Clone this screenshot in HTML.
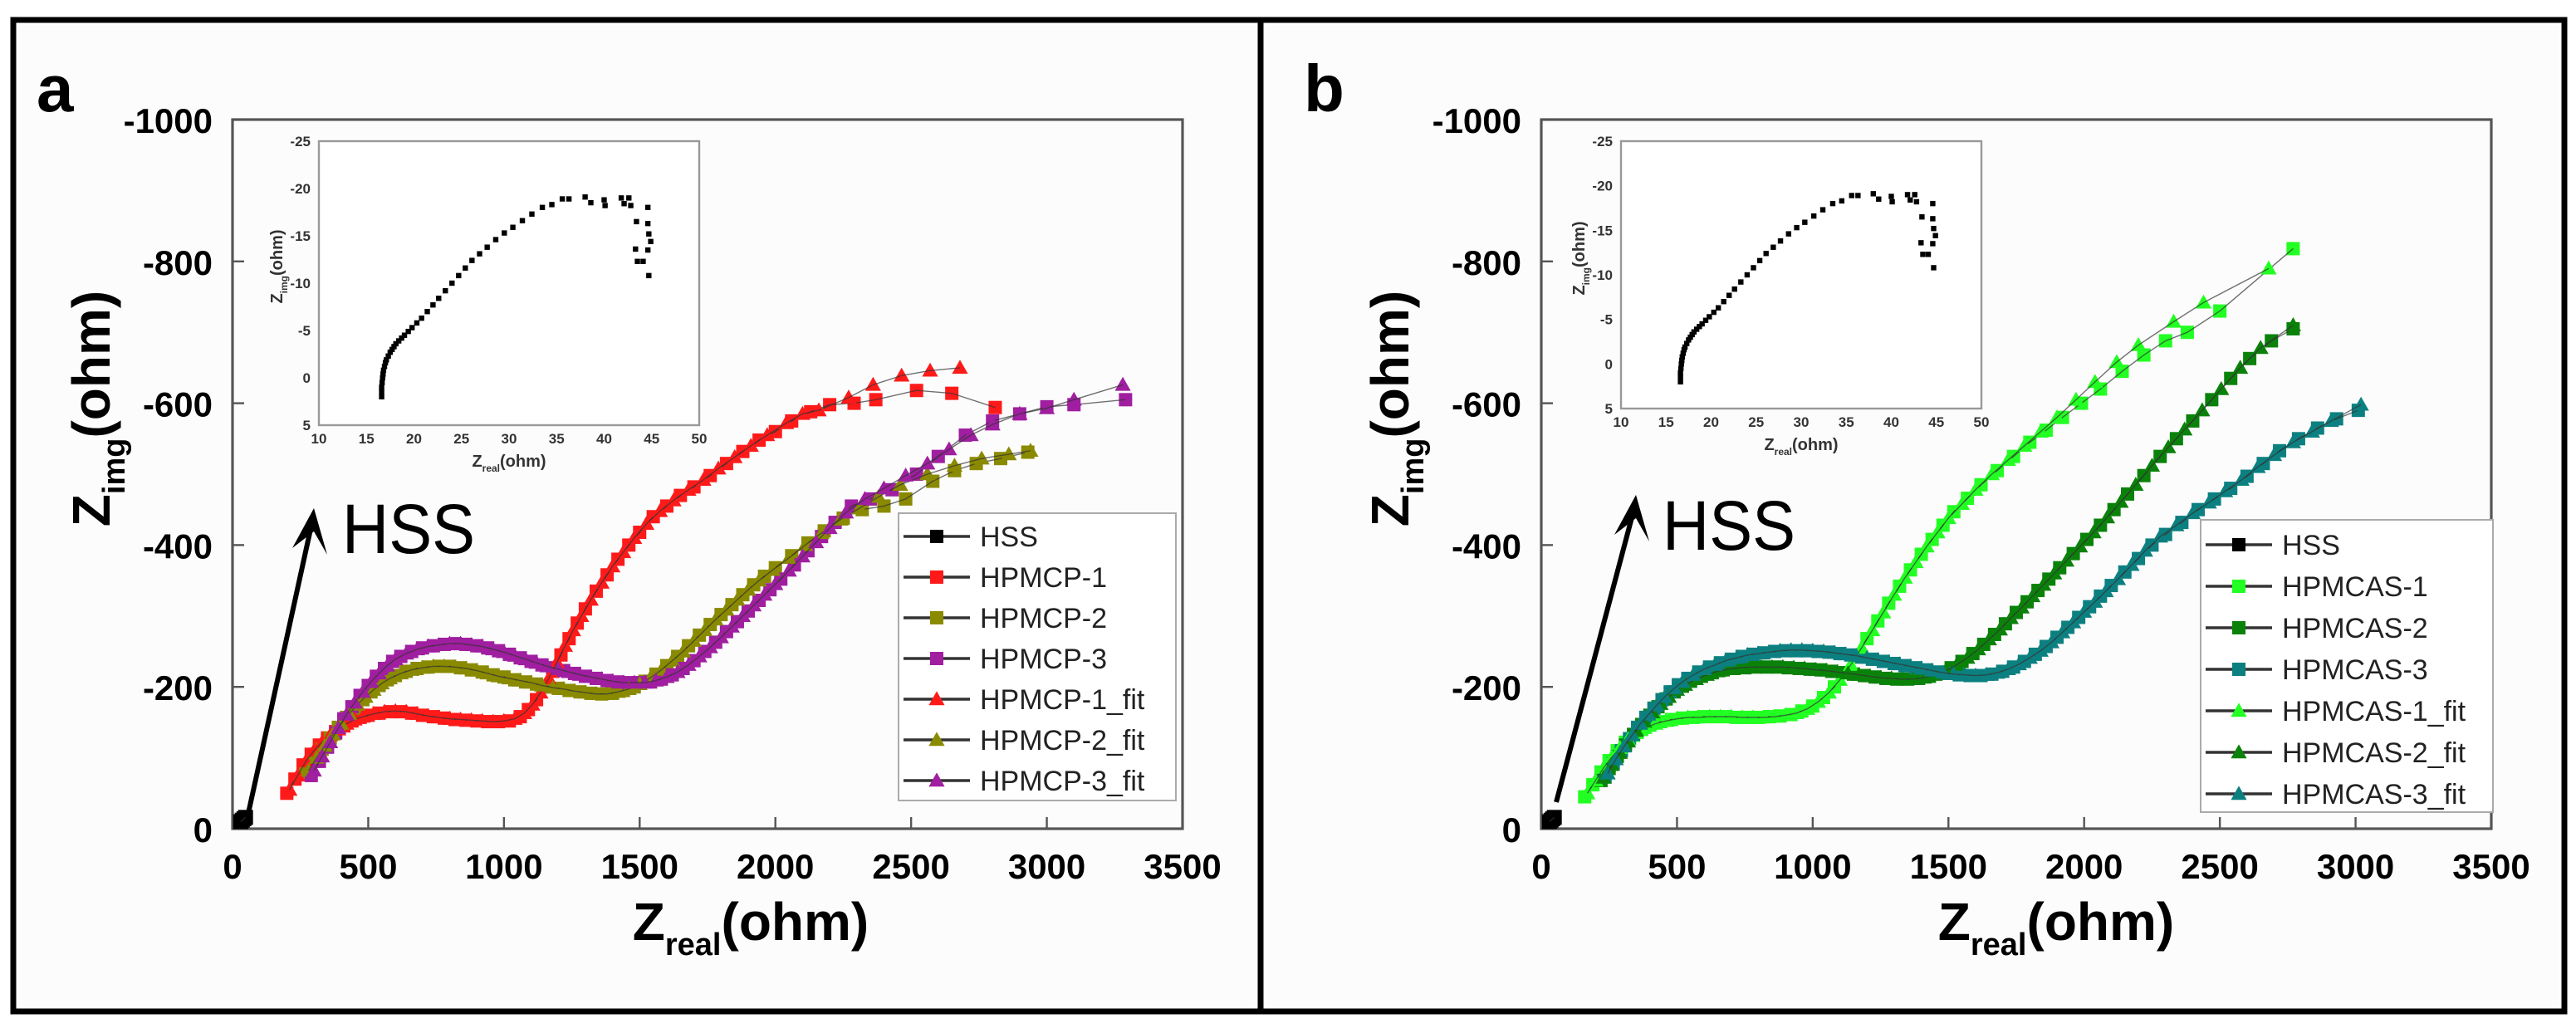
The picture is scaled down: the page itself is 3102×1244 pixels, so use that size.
<!DOCTYPE html>
<html><head><meta charset="utf-8"><style>
html,body{margin:0;padding:0;background:#fff;}
svg{display:block;font-family:"Liberation Sans",Arial,sans-serif;}
</style></head><body>
<svg id="fig" xmlns="http://www.w3.org/2000/svg" width="3102" height="1244" viewBox="0 0 1551 622"></svg>
<script>
const xTicks=[0,500,1000,1500,2000,2500,3000,3500];
const yTicks=[0,200,400,600,800,1000];
const insetXTicks=[10,15,20,25,30,35,40,45,50];
const insetYTicks=[5,0,-5,-10,-15,-20,-25];
const namesA=["HSS","HPMCP-1","HPMCP-2","HPMCP-3","HPMCP-1_fit","HPMCP-2_fit","HPMCP-3_fit"];
const namesB=["HSS","HPMCAS-1","HPMCAS-2","HPMCAS-3","HPMCAS-1_fit","HPMCAS-2_fit","HPMCAS-3_fit"];
const hss=[[30,10],[36,12],[42,14],[48,16]];
const p1=[[200,50],[230,70],[260,90],[290,105],[320,118],[350,128],[380,137],[410,145],[440,152],[470,157],[500,160],[540,163],[580,165],[620,165],[660,163],[700,160],[740,158],[780,156],[820,154],[860,153],[900,152],[940,151],[980,151],[1020,152],[1060,158],[1090,168],[1120,182],[1150,200],[1180,222],[1210,245],[1240,268],[1270,290],[1300,310],[1340,335],[1380,358],[1420,380],[1460,400],[1500,418],[1550,440],[1600,455],[1650,470],[1700,482],[1760,498],[1820,515],[1880,532],[1940,548],[2000,560],[2060,575],[2130,588],[2200,598],[2290,600],[2370,605],[2520,618],[2650,614],[2810,594]];
const p1fit=[[210,55],[240,75],[270,95],[300,110],[330,122],[360,132],[390,140],[420,148],[450,154],[480,158],[520,162],[560,165],[600,166],[640,165],[680,162],[720,159],[760,157],[800,155],[840,154],[880,153],[920,152],[960,151],[1000,152],[1040,155],[1075,163],[1105,175],[1135,192],[1165,212],[1195,235],[1225,258],[1255,280],[1285,300],[1320,323],[1360,347],[1400,370],[1440,390],[1480,410],[1525,430],[1575,448],[1625,463],[1680,478],[1735,492],[1790,508],[1850,524],[1910,540],[1970,555],[2040,572],[2100,585],[2160,590],[2270,608],[2360,626],[2465,639],[2570,646],[2680,650]];
const p2=[[270,78],[300,95],[330,112],[360,128],[390,143],[420,157],[450,170],[480,182],[510,193],[540,202],[570,210],[600,216],[640,222],[680,226],[720,228],[760,229],[800,229],[840,227],[880,224],[920,221],[960,217],[1000,214],[1040,210],[1080,207],[1120,204],[1160,201],[1200,198],[1240,195],[1280,193],[1320,191],[1360,190],[1400,191],[1440,195],[1480,200],[1520,208],[1560,218],[1600,230],[1640,243],[1680,258],[1720,273],[1760,288],[1800,302],[1840,316],[1880,330],[1920,344],[1960,356],[2000,368],[2060,385],[2120,403],[2180,420],[2250,438],[2320,450],[2400,455],[2480,465],[2580,490],[2660,505],[2740,515],[2830,522],[2930,531]];
const p2fit=[[280,82],[310,100],[340,117],[370,133],[400,148],[430,162],[460,175],[490,186],[520,196],[550,205],[580,212],[620,219],[660,224],[700,227],[740,229],[780,229],[820,228],[860,226],[900,223],[940,219],[980,215],[1020,212],[1060,209],[1100,206],[1140,202],[1180,199],[1220,197],[1260,194],[1300,192],[1340,190],[1380,190],[1420,193],[1460,197],[1500,204],[1540,213],[1580,224],[1620,237],[1660,250],[1700,265],[1740,280],[1780,295],[1820,309],[1860,323],[1900,337],[1940,350],[1990,365],[2050,382],[2110,400],[2170,417],[2240,436],[2310,452],[2380,468],[2460,485],[2560,500],[2660,512],[2760,522],[2860,528],[2940,533]];
const p3=[[290,75],[320,95],[350,115],[380,135],[410,155],[440,172],[470,188],[500,202],[530,215],[560,226],[590,236],[620,243],[660,250],[700,255],[740,258],[780,260],[820,261],[860,260],[900,258],[940,255],[980,251],[1020,246],[1060,241],[1100,236],[1140,231],[1180,227],[1220,223],[1260,219],[1300,215],[1340,212],[1380,209],[1420,207],[1460,206],[1500,206],[1540,207],[1580,211],[1620,217],[1660,226],[1700,237],[1740,250],[1780,263],[1820,278],[1860,292],[1900,307],[1940,322],[1980,337],[2020,352],[2070,372],[2120,392],[2170,412],[2220,432],[2280,455],[2350,465],[2430,478],[2520,500],[2600,525],[2700,555],[2800,575],[2900,585],[3000,595],[3100,598],[3290,605]];
const p3fit=[[300,82],[330,102],[360,122],[390,142],[420,161],[450,178],[480,193],[510,207],[540,219],[570,230],[600,239],[640,247],[680,253],[720,257],[760,259],[800,261],[840,261],[880,259],[920,257],[960,253],[1000,249],[1040,244],[1080,239],[1120,234],[1160,229],[1200,225],[1240,221],[1280,217],[1320,214],[1360,211],[1400,208],[1440,206],[1480,206],[1520,206],[1560,209],[1600,214],[1640,221],[1680,231],[1720,243],[1760,256],[1800,270],[1840,285],[1880,300],[1920,315],[1960,330],[2000,345],[2050,364],[2100,384],[2150,404],[2200,424],[2260,446],[2330,465],[2400,480],[2480,498],[2560,515],[2640,535],[2720,555],[2800,570],[2900,585],[3000,593],[3100,605],[3280,626]];
const q1=[[160,45],[190,62],[220,80],[250,96],[280,110],[310,122],[340,132],[370,140],[400,146],[440,151],[480,154],[520,156],[560,157],[600,158],[640,158],[680,158],[720,157],[760,157],[800,157],[840,158],[880,159],[920,161],[960,166],[1000,173],[1040,185],[1080,200],[1120,220],[1160,243],[1200,268],[1240,293],[1280,318],[1320,342],[1360,365],[1400,387],[1440,408],[1480,428],[1520,447],[1570,466],[1620,485],[1680,505],[1740,525],[1800,545],[1860,562],[1920,580],[1990,600],[2060,620],[2140,645],[2220,668],[2300,688],[2380,700],[2500,730],[2770,818]];
const q1fit=[[170,50],[200,68],[230,86],[260,101],[290,114],[320,126],[350,135],[380,142],[420,148],[460,152],[500,155],[540,157],[580,157],[620,158],[660,158],[700,158],[740,157],[780,157],[820,157],[860,158],[900,160],[940,163],[980,169],[1020,179],[1060,192],[1100,210],[1140,231],[1180,255],[1220,280],[1260,305],[1300,330],[1340,354],[1380,376],[1420,398],[1460,418],[1500,438],[1550,458],[1600,478],[1660,500],[1720,520],[1780,540],[1840,560],[1900,580],[1970,605],[2040,630],[2120,658],[2200,682],[2330,715],[2440,742],[2680,790]];
const q2=[[220,68],[250,85],[280,102],[310,118],[340,133],[370,147],[400,160],[430,172],[460,183],[490,193],[520,201],[550,208],[590,215],[630,220],[670,224],[710,226],[750,227],[790,228],[830,228],[870,228],[910,227],[950,226],[990,225],[1030,224],[1070,222],[1110,220],[1150,218],[1190,216],[1230,214],[1270,212],[1310,211],[1350,211],[1390,212],[1430,215],[1470,220],[1510,227],[1550,236],[1590,247],[1630,260],[1670,274],[1710,289],[1750,305],[1790,320],[1830,336],[1870,352],[1910,368],[1960,388],[2010,408],[2060,428],[2110,450],[2160,472],[2220,498],[2280,525],[2340,550],[2400,575],[2470,605],[2540,635],[2610,663],[2690,688],[2770,705]];
const q2fit=[[230,72],[260,90],[290,107],[320,123],[350,138],[380,151],[410,164],[440,176],[470,186],[500,196],[530,203],[570,211],[610,217],[650,222],[690,225],[730,227],[770,228],[810,228],[850,228],[890,228],[930,227],[970,226],[1010,224],[1050,223],[1090,221],[1130,219],[1170,217],[1210,215],[1250,213],[1290,212],[1330,211],[1370,211],[1410,213],[1450,217],[1490,223],[1530,231],[1570,241],[1610,253],[1650,267],[1690,281],[1730,297],[1770,312],[1810,328],[1850,344],[1890,360],[1935,378],[1985,398],[2035,418],[2085,439],[2135,461],[2190,485],[2250,512],[2310,538],[2370,563],[2435,590],[2505,620],[2575,650],[2650,678],[2770,710]];
const q3=[[235,73],[265,92],[295,110],[325,127],[355,143],[385,157],[415,170],[445,182],[475,193],[505,203],[540,212],[580,221],[620,228],[660,234],[700,239],[740,243],[780,246],[820,248],[860,250],[900,251],[940,251],[980,251],[1020,250],[1060,249],[1100,247],[1140,245],[1180,242],[1220,239],[1260,236],[1300,233],[1340,230],[1380,227],[1420,224],[1460,221],[1500,219],[1540,217],[1580,216],[1620,216],[1660,218],[1700,222],[1740,228],[1780,236],[1820,246],[1860,257],[1900,270],[1940,284],[1980,298],[2020,313],[2060,328],[2100,343],[2150,362],[2200,381],[2250,400],[2300,415],[2360,432],[2420,450],[2480,465],[2540,480],[2600,497],[2660,515],[2720,533],[2790,550],[2860,565],[2930,578],[3010,590]];
const q3fit=[[245,78],[275,98],[305,116],[335,132],[365,148],[395,161],[425,174],[455,186],[490,198],[520,207],[560,217],[600,225],[640,231],[680,237],[720,241],[760,245],[800,247],[840,249],[880,251],[920,252],[960,252],[1000,251],[1040,250],[1080,248],[1120,246],[1160,244],[1200,241],[1240,238],[1280,235],[1320,232],[1360,229],[1400,226],[1440,223],[1480,220],[1520,218],[1560,217],[1600,216],[1640,217],[1680,220],[1720,225],[1760,232],[1800,241],[1840,251],[1880,263],[1920,277],[1960,291],[2000,306],[2040,320],[2080,335],[2125,352],[2175,372],[2225,392],[2280,412],[2340,428],[2400,445],[2460,460],[2520,476],[2580,492],[2640,510],[2700,527],[2770,545],[2840,560],[2910,575],[3020,598]];
const inset=[[16.6,2],[16.6,1.5],[16.6,1],[16.65,0.5],[16.7,0],[16.75,-0.4],[16.8,-0.8],[16.9,-1.2],[17.0,-1.6],[17.1,-1.9],[17.3,-2.3],[17.5,-2.7],[17.7,-3],[17.9,-3.3],[18.1,-3.6],[18.4,-3.9],[18.7,-4.2],[19.0,-4.5],[19.4,-4.9],[19.8,-5.3],[20.3,-5.8],[20.8,-6.3],[21.4,-7],[22,-7.7],[22.6,-8.4],[23.3,-9.2],[24,-10],[24.7,-10.8],[25.4,-11.6],[26.1,-12.4],[26.9,-13.1],[27.7,-13.8],[28.6,-14.6],[29.5,-15.3],[30.4,-15.9],[31.4,-16.6],[32.4,-17.3],[33.5,-18],[34.5,-18.3],[35.6,-18.9],[36.3,-18.9],[38,-19.1],[38.6,-18.5],[40,-18.8],[40.1,-18.2],[41.8,-19],[42.1,-18.4],[42.6,-19],[42.8,-18.2],[44.6,-18],[43.4,-16.5],[44.6,-16.3],[44.7,-15.2],[44.9,-14.4],[43.3,-13.6],[44.6,-13.5],[43.5,-12.3],[44.1,-12.3],[44.7,-10.8]];
const colorsA=["#000","#ff1a1a","#8a8a00","#a01ea0"];
const colorsB=["#000","#22ff22","#0a820a","#0c8080"];

const NS="http://www.w3.org/2000/svg";
const svg=document.getElementById('fig');
function mk(tag,attrs,parent,text){const e=document.createElementNS(NS,tag);for(const k in attrs)e.setAttribute(k,attrs[k]);if(text!==undefined)e.textContent=text;(parent||svg).appendChild(e);return e;}

function marker(g,shape,x,y,c,s){
  if(shape==='sq'){const e=mk('rect',{x:x-s/2,y:y-s/2,width:s,height:s,fill:c},g);
    
    }
  else{const e=mk('polygon',{points:`${x},${y-s*0.6} ${x-s*0.6},${y+s*0.45} ${x+s*0.6},${y+s*0.45}`,fill:c},g);
    
    }
}

function panel(P){
  const L=P.L,R=P.R,T=P.T,B=P.B;
  const X=v=>L+v*(R-L)/3500, Y=v=>B-v*(B-T)/1000;
  const g=mk('g',{});
  
  
  const bg=mk('rect',{x:P.bx+3,y:P.by+3,width:P.bw-6,height:P.bh-6,fill:'#fcfcfc'},g);
  
  
  const lt=mk('text',{x:P.lx,y:67,'font-size':40,'font-weight':'bold',fill:'#000'},g,P.letter);
  
  
  const ax=mk('rect',{x:L,y:T,width:R-L,height:B-T,fill:'none',stroke:'#555','stroke-width':1.6},g);
  
  
  xTicks.forEach(v=>{
    mk('line',{x1:X(v),x2:X(v),y1:B,y2:B-7,stroke:'#555','stroke-width':1.2},g);
    const t=mk('text',{x:X(v),y:B+30,'text-anchor':'middle','font-size':21,'font-weight':'bold'},g,String(v));
    
    
  });
  yTicks.forEach(v=>{
    mk('line',{x1:L,x2:L+7,y1:Y(v),y2:Y(v),stroke:'#555','stroke-width':1.2},g);
    const t=mk('text',{x:L-12,y:Y(v)+8,'text-anchor':'end','font-size':21,'font-weight':'bold'},g,v===0?'0':'-'+v);
    
    
  });
  const xt=mk('text',{x:P.xtx,y:566,'text-anchor':'middle','font-size':32,'font-weight':'bold'},g);
  
  
  mk('tspan',{},xt,'Z');mk('tspan',{'font-size':19,dy:9},xt,'real');mk('tspan',{dy:-9},xt,'(ohm)');
  const yt=mk('text',{x:0,y:0,'text-anchor':'middle','font-size':32,'font-weight':'bold',transform:`translate(${P.ytx},246) rotate(-90)`},g);
  
  
  mk('tspan',{},yt,'Z');mk('tspan',{'font-size':19,dy:9},yt,'img');mk('tspan',{dy:-9},yt,'(ohm)');
  // inset
  const I=P.inset, IX=v=>I.L+(v-10)*(I.R-I.L)/40, IY=v=>I.B+(v-5)*(I.B-I.T)/30;
  const ig=mk('g',{},g);
  
  
  mk('rect',{x:I.L,y:I.T,width:I.R-I.L,height:I.B-I.T,fill:'#fff',stroke:'#999','stroke-width':1.2},ig);
  insetXTicks.forEach(v=>{const t=mk('text',{x:IX(v),y:I.B+11,'text-anchor':'middle','font-size':8.5,'font-weight':'bold',fill:'#333'},ig,String(v));
    
    });
  insetYTicks.forEach(v=>{const t=mk('text',{x:I.L-5,y:IY(v)+3,'text-anchor':'end','font-size':8.5,'font-weight':'bold',fill:'#333'},ig,String(v));
    
    });
  const ixt=mk('text',{x:(I.L+I.R)/2,y:I.B+25,'text-anchor':'middle','font-size':10,'font-weight':'bold',fill:'#333'},ig);
  
  
  mk('tspan',{},ixt,'Z');mk('tspan',{'font-size':6,dy:3},ixt,'real');mk('tspan',{dy:-3},ixt,'(ohm)');
  const iyt=mk('text',{x:0,y:0,'text-anchor':'middle','font-size':10,'font-weight':'bold',fill:'#333',transform:`translate(${I.L-22},${(I.T+I.B)/2-10}) rotate(-90)`},ig);
  
  
  mk('tspan',{},iyt,'Z');mk('tspan',{'font-size':6,dy:3},iyt,'img');mk('tspan',{dy:-3},iyt,'(ohm)');
  inset.forEach(p=>{const d=mk('rect',{x:IX(p[0])-1.6,y:IY(p[1])-1.6,width:3.2,height:3.2,fill:'#000'},ig);
    
    });
  // arrow + HSS
  const ar=mk('line',{x1:P.arrow[0],y1:P.arrow[1],x2:P.arrow[2],y2:P.arrow[3],stroke:'#000','stroke-width':3},g);
  
  
  const ax2=P.arrow[2],ay2=P.arrow[3];
  mk('polygon',{points:`${ax2+1},${ay2-8} ${ax2-12},${ay2+16} ${ax2+1},${ay2+6} ${ax2+9},${ay2+20}`,fill:'#000'},g);
  const hl=mk('text',{x:P.hss[0],y:P.hss[1],'font-size':42,textLength:80,lengthAdjust:'spacingAndGlyphs'},g,'HSS');
  
  
  // series
  const series=[[P.s[0],'sq',P.c[0],P.n[0]],[P.s[1],'sq',P.c[1],P.n[1]],[P.s[2],'sq',P.c[2],P.n[2]],[P.s[3],'sq',P.c[3],P.n[3]],
    [P.s[4],'tr',P.c[1],P.n[4]],[P.s[5],'tr',P.c[2],P.n[5]],[P.s[6],'tr',P.c[3],P.n[6]]];
  series.forEach(([data,shape,c,name])=>{
    const sg=mk('g',{},g);
    
    
    data.forEach(p=>marker(sg,shape,X(p[0]),Y(p[1]),c,shape==='sq'&&name==='HSS'?9:8));
    mk('polyline',{points:data.map(p=>X(p[0])+','+Y(p[1])).join(' '),fill:'none',stroke:'#333','stroke-width':0.7,'stroke-opacity':0.7},sg);
  });
  // legend
  const lg=mk('g',{},g);
  
  
  mk('rect',{x:P.leg[0],y:P.leg[1],width:P.leg[2],height:P.leg[3],fill:'#fff',stroke:'#aaa','stroke-width':1},lg);
  series.forEach(([d,shape,c,name],i)=>{
    const y=P.leg[4]+i*P.leg[5], x=P.leg[0];
    const eg=mk('g',{},lg);
    
    
    mk('line',{x1:x+3,x2:x+43,y1:y,y2:y,stroke:'#333','stroke-width':1.8},eg);
    marker(eg,shape,x+23,y,c,8);
    mk('text',{x:x+49,y:y+6,'font-size':17,fill:'#222'},eg,name);
  });
}

const fA=mk('rect',{x:8,y:12,width:751,height:597,fill:'none',stroke:'#000','stroke-width':3.5});


const fB=mk('rect',{x:759,y:12,width:785,height:597,fill:'none',stroke:'#000','stroke-width':3.5});



panel({id:'panel-a',letter:'a',lx:22,L:140,R:712,T:72,B:499,bx:8,by:12,bw:751,bh:597,xtx:452,ytx:66,
  inset:{L:192,R:421,T:85,B:256},arrow:[149,492,188,314],hss:[206,333],
  s:[hss,p1,p2,p3,p1fit,p2fit,p3fit],c:colorsA,n:namesA,leg:[541,309,167,173,323,24.5]});
panel({id:'panel-b',letter:'b',lx:785,L:928,R:1500,T:72,B:499,bx:759,by:12,bw:785,bh:597,xtx:1238,ytx:848,
  inset:{L:976,R:1193,T:85,B:246},arrow:[937,483,984,306],hss:[1001,331],
  s:[hss,q1,q2,q3,q1fit,q2fit,q3fit],c:colorsB,n:namesB,leg:[1325,313,176,176,328,25]});
</script>
</body></html>
